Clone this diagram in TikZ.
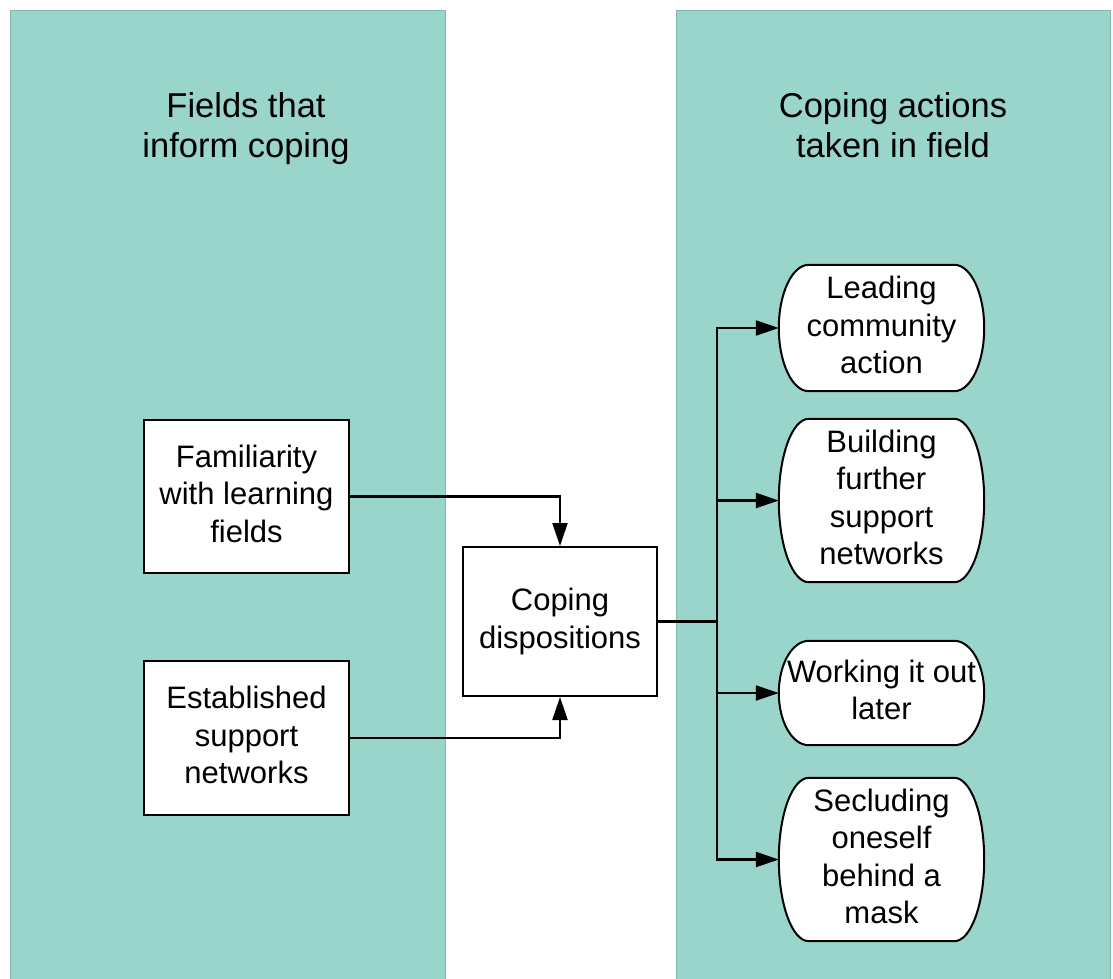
\documentclass[tikz,border=0pt]{standalone}
\usepackage{fontspec}
\setmainfont{Liberation Sans}
\usetikzlibrary{arrows.meta,calc}
\definecolor{panelfill}{RGB}{153,213,202}
\definecolor{paneledge}{RGB}{128,184,174}
\pgfdeclarelayer{panels}
\pgfdeclarelayer{shapes}
\pgfsetlayers{panels,shapes,main}
\tikzset{
  panel/.style={fill=panelfill,draw=paneledge,line width=0.8pt},
  title/.style={align=center,font=\fontsize{34.5}{40}\selectfont,
    execute at end node={\vphantom{p}}},
  boxtext/.style={align=center,font=\fontsize{31}{37.5}\selectfont,inner sep=0pt,
    execute at end node={\vphantom{p}}},
  sqbox/.style={boxtext,draw=black,fill=white,line width=2pt,minimum width=205pt},
  pillnode/.style={boxtext,minimum width=205pt},
  pilloutline/.style={draw=black,fill=white,line width=2pt},
  link/.style={draw=black,line width=2.2pt},
  arr/.style={link,-{Triangle[length=23pt,width=15pt]}}
}
% rounded-end outline behind a pill node
\newcommand\pilloutlineof[1]{%
  \begin{pgfonlayer}{shapes}
    \path[pilloutline] let \p1=(#1.north east), \p2=(#1.south west),
      \n1={(\y1-\y2)/2} in
      (\x2+30pt,\y1) -- (\x1-30pt,\y1)
      arc[start angle=90,end angle=-90,x radius=30pt,y radius=\n1]
      -- (\x2+30pt,\y2)
      arc[start angle=270,end angle=90,x radius=30pt,y radius=\n1] -- cycle;
  \end{pgfonlayer}}
\begin{document}
\begin{tikzpicture}[x=1pt,y=-1pt]
\useasboundingbox (0,0) rectangle (1113,978);

% background columns
\begin{pgfonlayer}{panels}
  \path[panel] (10,10) rectangle (445,980);
  \path[panel] (676,10) rectangle (1110,980);
\end{pgfonlayer}

\node[title] (ltitle) at (246,129) {Fields that\\inform coping};
\node[title] (rtitle) at (893,129) {Coping actions\\taken in field};

% sources
\node[sqbox,minimum height=153pt] (fam) at (246.5,496.5) {Familiarity\\with learning\\fields};
\node[sqbox,minimum height=154pt] (est) at (246.5,738) {Established\\support\\networks};

% centre
\node[sqbox,minimum width=194pt,minimum height=149pt] (cd) at (560,621.5) {Coping\\dispositions};

% outcomes
\node[pillnode,minimum height=126pt] (lead) at (881.5,328) {Leading\\community\\action};
\node[pillnode,minimum height=163pt] (build) at (881.5,500.5) {Building\\further\\support\\networks};
\node[pillnode,minimum height=104pt] (work) at (881.5,693) {Working it out\\later};
\node[pillnode,minimum height=163pt] (secl) at (881.5,859.5) {Secluding\\oneself\\behind a\\mask};
\pilloutlineof{lead}
\pilloutlineof{build}
\pilloutlineof{work}
\pilloutlineof{secl}

% connectors into the centre
\draw[arr] (fam.east) -| (cd.north);
\draw[arr] (est.east) -| (cd.south);

% fan-out to the actions
\coordinate (hub) at (717,621.5);
\draw[link] (cd.east) -- (hub);
\draw[arr] (hub) |- (lead.west);
\draw[arr] (hub) |- (build.west);
\draw[arr] (hub) |- (work.west);
\draw[arr] (hub) |- (secl.west);
\end{tikzpicture}
\end{document}
